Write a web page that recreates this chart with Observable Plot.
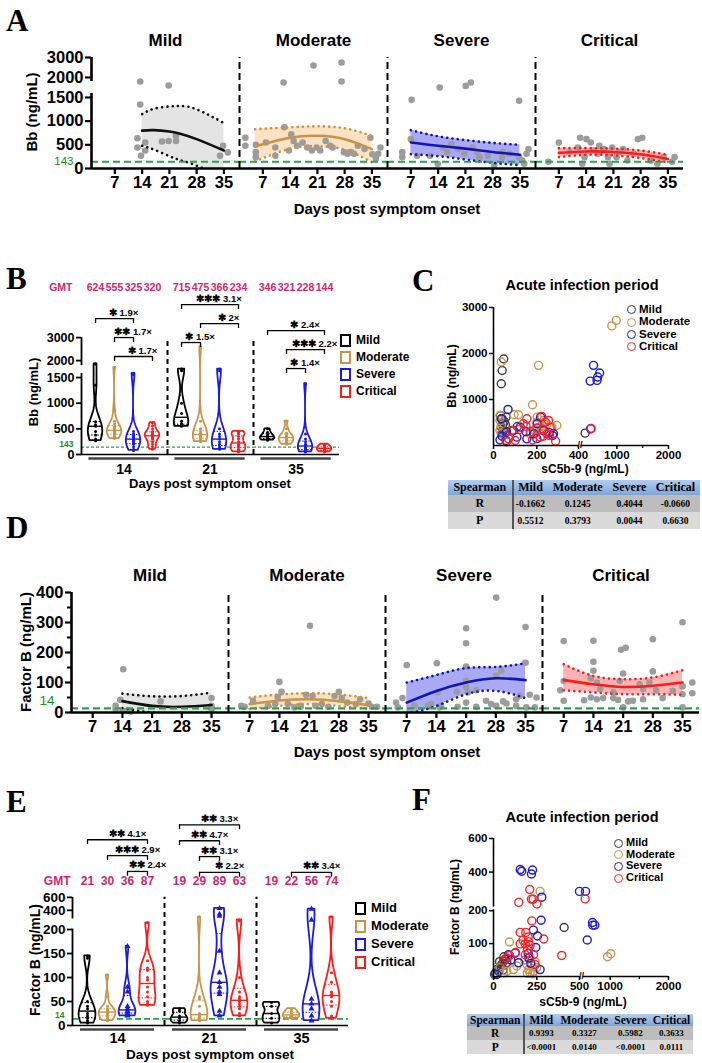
<!DOCTYPE html>
<html><head><meta charset="utf-8">
<script src="https://cdn.jsdelivr.net/npm/d3@7"></script>
<script src="https://cdn.jsdelivr.net/npm/@observablehq/plot@0.6"></script>
<style>
body{margin:0;background:#fff;}
#root{position:relative;width:702px;height:1063px;overflow:hidden;font-family:"Liberation Sans",Arial,sans-serif;color:#000;}
.letter{position:absolute;font-family:"Liberation Serif","Times New Roman",serif;font-weight:bold;font-size:31px;line-height:1;}
.lab{position:absolute;font-weight:bold;white-space:nowrap;transform:translate(-50%,-50%);line-height:1;}
.ylab{position:absolute;font-weight:bold;white-space:nowrap;transform:translate(-50%,-50%) rotate(-90deg);line-height:1;}
.leg{position:absolute;font-weight:bold;white-space:nowrap;line-height:1;}
.sq{display:inline-block;width:7px;height:9px;border:2px solid;vertical-align:middle;margin-right:5px;}
.ci{display:inline-block;width:7px;height:7px;border:1.5px solid;border-radius:50%;vertical-align:middle;margin-right:3px;}
table.sp{position:absolute;border-collapse:collapse;font-family:"Liberation Serif","Times New Roman",serif;font-weight:bold;text-align:center;}
table.sp th{background:linear-gradient(#b3cdee,#7da5da);padding:0 3px;}
table.sp tr.r td{background:#bdbdbd;}
table.sp tr.p td{background:#dadada;}
table.sp th:first-child,table.sp td:first-child{border-right:2px solid #555;}
</style></head>
<body><div id="root"></div>
<script>
// ---------------- shared categories ----------------
const groups = ["Mild", "Moderate", "Severe", "Critical"];
const days = [14, 21, 35];
const xTickDays = [7, 14, 21, 28, 35];

// ---------------- Panel A: Bb over time, grey points [day, ng/mL] ----------------
const aPtsMild = [[13.5,1900],[13.5,1350],[12.8,640],[12.8,445],[13.7,270],[14.8,550],[14.8,380],[20.8,1800],[20.8,580],[22.7,690],[22.7,580],[19.1,570],[34,270],[34.8,480],[36,340]];
const aPtsModerate = [[2.5,650],[2.5,480],[5.2,345],[5.2,240],[5.2,500],[7.8,550],[10.2,445],[12.5,870],[12.3,1875],[14.3,720],[14.9,580],[15.8,480],[17.2,550],[18.4,445],[19.6,380],[20,2600],[20.8,445],[21.7,380],[23.1,580],[24.3,480],[24.9,445],[27.2,2750],[27.2,1900],[27.8,345],[28.8,310],[29.6,345],[30.4,310],[31.4,480],[33.1,410],[34.6,650],[35.1,300],[36.6,310],[37.2,445],[36,210],[10.2,270],[13.7,380]];
const aPtsSevere = [[7.2,1450],[7,620],[4.8,345],[4.8,240],[8.6,270],[11.9,270],[13.9,100],[14.4,1750],[15.2,445],[16.3,345],[17.4,515],[19.1,410],[20.7,310],[21.1,1790],[22.4,1875],[22.9,445],[24.6,240],[26.8,270],[28.4,70],[30.4,240],[32.3,310],[34.8,1430],[34.8,240],[35.6,170],[36.7,310],[37.2,410],[36.1,100],[24,345],[30.6,345]];
const aPtsCritical = [[4.3,140],[7,550],[9.7,345],[11.9,445],[12.5,650],[13.6,240],[14.1,620],[15.2,550],[16.9,310],[18.5,410],[19.6,240],[20,100],[20.7,445],[21.8,240],[23.5,410],[24.6,170],[26.2,310],[27.3,620],[28.4,650],[30.6,170],[32.3,100],[33.9,240],[36.1,140],[36.7,240],[13,100],[15.8,380],[17.4,480],[22.4,345]];
// fitted curve with 95% band [day, fit, lower, upper]
const aFitMild = [[14,800,480,1150],[17,810,400,1260],[21,780,260,1310],[24,730,170,1320],[28,620,60,1250],[35,380,-200,960]];
const aFitModerate = [[5,470,150,830],[14,650,420,870],[21,690,470,890],[28,620,400,850],[35,410,130,690]];
const aFitSevere = [[7,550,300,810],[14,480,260,680],[21,420,190,600],[28,350,120,540],[35,290,70,500]];
const aFitCritical = [[7,330,240,430],[14,360,290,430],[21,350,280,420],[28,300,220,380],[35,200,130,290]];
const aYTicks = [0, 500, 1000, 1500, 2000, 3000];

// ---------------- Panel D: Factor B over time ----------------
const dPtsMild = [[14.2,144],[13.5,42],[12.4,22],[12.4,11],[15,5],[16,3],[23,37],[35,48],[35,22],[35,11],[14,5]];
const dPtsModerate = [[21.2,289],[14,102],[14.5,69],[7.8,39],[5,22],[5.8,19],[11.3,22],[13,28],[13.6,52],[16,28],[19,19],[20.3,59],[21.8,55],[22.5,22],[24,28],[25.5,19],[27,55],[28,69],[28.7,48],[30,33],[32,28],[33,44],[35,30],[35.8,19],[37,19],[17.5,17],[19,22]];
const dPtsSevere = [[28.1,383],[21,281],[21,231],[35,285],[7,158],[14.1,164],[35,166],[21,153],[29.3,139],[28.1,122],[21,105],[21,85],[23.4,74],[18.8,69],[14.3,67],[21.4,67],[21,33],[25.7,39],[26.9,28],[28.1,22],[29.7,37],[30.5,30],[32.8,22],[33.6,55],[36,59],[37.6,50],[35.2,17],[37.2,17],[4.5,33],[6,48],[4.9,17],[8.8,22],[12,22],[12.7,28],[15.1,22],[19,19],[23.4,19],[32.8,44],[14.7,17]];
const dPtsCritical = [[35,301],[7,238],[14,239],[20.5,209],[21.6,216],[28,244],[14,169],[21,130],[28,137],[7,105],[14,139],[13.4,114],[6.2,74],[7,39],[11.8,41],[13.4,50],[14.8,44],[16.3,48],[18.7,48],[19.8,42],[21,17],[22.2,37],[23.3,39],[25.7,44],[25.7,78],[28.8,74],[30.3,48],[32.7,72],[35,87],[35,61],[35,17],[37.3,100],[37.3,64],[14.8,100],[20.2,105],[24.9,94],[27.2,100],[15.6,78],[18.7,67]];
const dFitMild = [[14,38,15,63],[21,22,0,54],[28,19,-2,55],[35,25,0,66]];
const dFitModerate = [[7,28,11,50],[14,40,22,60],[21,44,28,64],[28,38,22,60],[35,24,11,48]];
const dFitSevere = [[7,33,-5,100],[14,72,22,125],[21,100,61,148],[28,114,72,152],[35,108,48,164]];
const dFitCritical = [[7,108,74,161],[14,94,67,122],[21,85,61,111],[28,89,61,117],[35,100,59,141]];
const dYTicks = [0, 100, 200, 300, 400];
const dYMinor = [50, 150, 250, 350];

// ---------------- Panel B: Bb violins [group, day, values] ----------------
const bViolins = [
  ["Mild",14,[1900,1350,640,580,550,450,380,300,270]],
  ["Moderate",14,[1800,870,650,600,550,520,500,480,460,450,420,400,380,350,340,310]],
  ["Severe",14,[1620,1580,450,400,380,350,320,300,280,250,220,200,150,100,80]],
  ["Critical",14,[620,560,500,450,420,400,380,350,320,300,250,200,150,100]],
  ["Mild",21,[1750,1700,1000,800,650,600,560,550]],
  ["Moderate",21,[2600,650,500,450,420,400,380,350,320,300,280,250]],
  ["Severe",21,[1750,1700,500,400,350,300,250,200,150,120,100]],
  ["Critical",21,[450,420,400,350,300,250,200,180,150,100,80,50]],
  ["Mild",35,[500,430,380,350,320,300,280]],
  ["Moderate",35,[650,500,420,380,350,330,300,280,250,220,200]],
  ["Severe",35,[1380,400,300,250,200,180,150,130,100,80,60,50]],
  ["Critical",35,[200,180,150,130,120,100,80,60,50]]
];
const bGMT = [624,555,325,320,715,475,366,234,346,321,228,144];
// [day, from group, to group, stars, fold]  (listed bottom row first)
const bBrackets = [
  [14,"Moderate","Critical","✱","1.7×"],[14,"Moderate","Severe","✱✱","1.7×"],[14,"Mild","Severe","✱","1.9×"],
  [21,"Mild","Moderate","✱","1.5×"],[21,"Moderate","Critical","✱","2×"],[21,"Mild","Critical","✱✱✱","3.1×"],
  [35,"Moderate","Severe","✱","1.4×"],[35,"Moderate","Critical","✱✱✱","2.2×"],[35,"Mild","Critical","✱","2.4×"]
];
const bYTicks = [0, 500, 1000, 1500, 2000, 3000];

// ---------------- Panel E: Factor B violins ----------------
const eViolins = [
  ["Mild",14,[145,140,50,40,35,25,20,15,10,5]],
  ["Moderate",14,[105,60,40,35,32,30,28,25,22,20,15,12,10]],
  ["Severe",14,[165,80,70,40,35,30,28,25,22,20]],
  ["Critical",14,[270,135,120,115,100,95,80,70,60,50,45,42]],
  ["Mild",21,[35,30,20,15,10,5]],
  ["Moderate",21,[330,60,55,40,25,20,18,15,12,10]],
  ["Severe",21,[430,360,340,155,110,90,80,70,65,30,20]],
  ["Critical",21,[300,290,100,70,60,55,50,45,40,35,25,20]],
  ["Mild",35,[48,40,25,15,5]],
  ["Moderate",35,[35,30,25,22,20,18,15]],
  ["Severe",35,[420,300,55,45,35,20,10]],
  ["Critical",35,[330,110,90,70,65,60,50,40,20,15]]
];
const eGMT = [21,30,36,87,19,29,89,63,19,22,56,74];
const eBrackets = [
  [14,"Severe","Critical","✱✱","2.4×"],[14,"Moderate","Critical","✱✱✱","2.9×"],[14,"Mild","Critical","✱✱","4.1×"],
  [21,"Moderate","Critical","✱","2.2×"],[21,"Moderate","Severe","✱✱","3.1×"],[21,"Mild","Severe","✱✱","4.7×"],[21,"Mild","Critical","✱✱","3.3×"],
  [35,"Moderate","Critical","✱✱","3.4×"]
];
const eYTicks = [0, 50, 100, 150, 200, 400, 600];

// ---------------- Panel C: Bb vs sC5b-9 [sC5b-9, Bb] ----------------
const cMild = [[47,1880],[40,1630],[36,1343],[32,653],[40,580],[43,472],[36,400],[47,327],[40,254],[58,617],[110,414],[504,269],[50,520],[55,450],[45,350],[52,300]];
const cModerate = [[36,1815],[208,1742],[180,886],[95,668],[115,668],[30,653],[30,545],[36,436],[30,327],[36,254],[202,617],[233,545],[249,470],[272,400],[210,400],[187,327],[171,254],[225,327],[922,2600],[990,2720],[296,435],[200,500],[220,420],[190,350]];
const cSevere = [[635,1742],[583,1400],[700,1490],[730,1575],[690,1415],[590,363],[67,784],[36,580],[30,123],[58,109],[92,327],[123,400],[187,254],[202,472],[233,327],[280,254],[154,145],[108,181],[218,617],[276,218],[40,200],[60,300],[150,300],[260,280],[200,150]];
const cCritical = [[598,370],[223,632],[85,327],[138,472],[154,580],[217,181],[248,254],[290,94],[240,508],[100,109],[70,145],[256,545],[264,400],[170,300],[120,350],[180,120],[230,200],[200,380],[260,220],[150,420],[60,80]];
const cXTicks = [0, 200, 400, 1000, 2000];
const cYTicks = [1000, 2000, 3000];
const cR = ["-0.1662","0.1245","0.4044","-0.0660"];
const cP = ["0.5512","0.3793","0.0044","0.6630"];

// ---------------- Panel F: Factor B vs sC5b-9 ----------------
const fMild = [[410,149],[29,16],[38,26],[48,37],[58,47],[67,52],[77,42],[10,10],[6,6],[22,22],[45,30],[55,20],[35,45],[60,60],[75,55]];
const fModerate = [[269,300],[92,105],[957,60],[1011,69],[202,21],[221,32],[231,16],[192,37],[250,27],[211,11],[115,21],[77,16],[38,27],[58,11],[135,32],[180,50],[240,45],[210,60],[195,10],[225,8]];
const fSevere = [[154,415],[163,405],[225,412],[219,390],[279,270],[275,171],[230,141],[254,123],[244,88],[125,71],[86,66],[269,21],[500,300],[598,300],[712,164],[716,156],[750,156],[627,111],[204,56],[19,6],[145,42],[200,70],[215,40],[100,50]];
const fCritical = [[209,310],[219,260],[229,260],[250,235],[146,243],[592,261],[221,169],[290,114],[154,134],[186,134],[154,99],[183,99],[202,106],[211,94],[231,66],[396,64],[127,73],[92,64],[77,56],[58,48],[196,81],[183,66],[240,36],[200,120],[170,110]];
const fXTicks = [0, 250, 500, 1000, 2000];
const fYTicks = [100, 200, 400, 600];
const fR = ["0.9393","0.3327","0.5982","0.3633"];
const fP = ["<0.0001","0.0140","<0.0001","0.0111"];

// ---------------- styles ----------------
const lineCol = ["#111111", "#c8944a", "#1414b4", "#ff1a1a"];
const bandCol = ["#e4e4e4", "#fde3c3", "#a9a9f5", "#ffb3b3"];
const violinCol = ["#000000", "#c8944a", "#1a1ae0", "#ff1a1a"];
const scatterCol = ["#3c3c3c", "#c8944a", "#1a1ad6", "#ff2020"];
const gmtCol = "#d0266b";
const green = "#22a845";
const greenText = "#1c8c1c";
const FONT = "'Liberation Sans', Arial, sans-serif";

const root = document.getElementById("root");
function place(el, left, top) { el.style.position = "absolute"; el.style.left = left + "px"; el.style.top = top + "px"; root.appendChild(el); return el; }
function div(cls, text, left, top, css) { const d = document.createElement("div"); d.className = cls; d.textContent = text; Object.assign(d.style, css || {}); return place(d, left, top); }

// ---------------- trend panels (A, D) ----------------
function trendPanel(o) {
  const pts = [], fits = [];
  o.pts.forEach((arr, gi) => arr.forEach(([day, v]) => pts.push({g: groups[gi], day, y: o.disp(v)})));
  o.fits.forEach((arr, gi) => arr.forEach(([day, f, lo, hi]) => fits.push({g: groups[gi], day, f: o.disp(f), lo: o.disp(lo), hi: o.disp(hi)})));
  const yTop = o.disp(o.yMax);
  const marks = [];
  groups.forEach((g, gi) => marks.push(Plot.areaY(fits.filter(d => d.g === g), {fx: "g", x: "day", y1: "lo", y2: "hi", fill: bandCol[gi], curve: "natural", clip: true})));
  marks.push(Plot.dot(pts, {fx: "g", x: "day", y: "y", r: o.r, fill: "#9c9c9c"}));
  groups.forEach((g, gi) => {
    const rows = fits.filter(d => d.g === g);
    ["lo", "hi"].forEach(k => marks.push(Plot.line(rows, {fx: "g", x: "day", y: k, stroke: lineCol[gi], strokeWidth: 2.6, strokeDasharray: "0.1 5.2", strokeLinecap: "round", curve: "natural", clip: true})));
    marks.push(Plot.line(rows, {fx: "g", x: "day", y: "f", stroke: lineCol[gi], strokeWidth: 2.6, curve: "natural", clip: true}));
  });
  marks.push(Plot.ruleY([o.disp(o.ref)], {stroke: green, strokeWidth: 2.2, strokeDasharray: "7 4"}));
  marks.push(Plot.ruleY([0], {strokeWidth: 2.6}));
  marks.push(Plot.ruleX(groups.slice(0, 3), {fx: d => d, x: o.xDomain[1], y1: 0, y2: yTop, strokeWidth: 2, strokeDasharray: "7 4"}));
  marks.push(Plot.axisX({ticks: xTickDays, tickSize: 6, tickPadding: 2, strokeWidth: 2.2, fontSize: o.tickFont, fontWeight: "bold", label: null}));
  const lab = new Map(o.yTicks.map(t => [o.disp(t), String(t)]));
  marks.push(Plot.axisY({ticks: o.yTicks.map(o.disp), tickFormat: d => lab.get(d), tickSize: 6, tickPadding: 2, strokeWidth: 2.2, fontSize: o.tickFont, fontWeight: "bold", label: null}));
  if (o.yMinor) marks.push(Plot.axisY({ticks: o.yMinor.map(o.disp), tickFormat: () => "", tickSize: 4, strokeWidth: 2, label: null}));
  marks.push(Plot.axisY({ticks: [o.disp(o.ref)], tickFormat: () => String(o.ref), color: greenText, tickSize: 0, tickPadding: o.refPad, dy: o.refDy, fontSize: o.refFont, label: null}));
  marks.push(Plot.ruleX(o.axisSegs, {fx: () => groups[0], x: o.xDomain[0], y1: d => o.disp(d[0]), y2: d => o.disp(d[1]), strokeWidth: 2.6}));
  marks.push(Plot.text(groups, {fx: d => d, text: d => d, frameAnchor: "top", dy: -24, fontSize: 17, fontWeight: "bold"}));
  return Plot.plot({
    width: o.width, height: o.height,
    marginLeft: o.ml, marginRight: o.mr, marginTop: o.mt, marginBottom: o.mb,
    style: {fontFamily: FONT, fontSize: "16px", color: "#000", background: "transparent", overflow: "visible"},
    fx: {domain: groups, padding: 0, axis: null},
    x: {domain: o.xDomain, axis: null},
    y: {domain: [0, yTop], axis: null},
    marks
  });
}

// ---------------- violin panels (B, E) ----------------
function violinPanel(o) {
  const outline = [], dots = [], qlines = [];
  for (const [g, day, vals] of o.data) {
    const gi = groups.indexOf(g);
    const ys = vals.map(o.disp);
    const bw = Math.max(1.06 * d3.deviation(ys) * Math.pow(ys.length, -0.2) * o.bwScale, o.minBw);
    const kde = y => d3.sum(ys, v => Math.exp(-0.5 * ((y - v) / bw) ** 2));
    const lo = d3.min(ys), hi = d3.max(ys);
    const grid = d3.range(61).map(i => lo + (hi - lo) * i / 60);
    const dens = grid.map(kde), m = d3.max(dens);
    grid.forEach((y, i) => outline.push({g, gi, day, y, w: o.maxW * dens[i] / m}));
    ys.forEach(y => dots.push({g, gi, day, y}));
    [[0.5, "med"], [0.25, "q"], [0.75, "q"]].forEach(([p, kind]) => {
      const y = d3.quantile(ys, p);
      qlines.push({g, gi, day, y, kind, w: o.maxW * kde(y) / m});
    });
  }
  const brRank = {};
  const br = o.brackets.map(([day, a, b, stars, fold]) => {
    const rank = brRank[day] = (brRank[day] ?? -1) + 1;
    return {day, a: groups.indexOf(a), b: groups.indexOf(b), label: stars + " " + fold, y: o.brBase[day] + rank * o.brStep};
  });
  const gmtRows = o.gmt.map((v, i) => ({day: days[Math.floor(i / 4)], gi: i % 4, v}));
  const lab = new Map(o.yTicks.map(t => [o.disp(t), String(t)]));
  const marks = [
    Plot.ruleY([o.ref], {stroke: green, strokeWidth: o.refW, strokeDasharray: o.refDash}),
    Plot.ruleX(days.slice(0, 2), {fx: d => d, x: o.xDomain[1], y1: 0, y2: o.disp(o.divTop), strokeWidth: 2, strokeDasharray: "5 4"}),
    Plot.areaX(outline, {fx: "day", y: "y", x1: d => d.gi - d.w, x2: d => d.gi + d.w, z: "g", stroke: "g", fill: "white", strokeWidth: 1.8}),
    Plot.ruleY(qlines.filter(d => d.kind === "med"), {fx: "day", y: "y", x1: d => d.gi - d.w, x2: d => d.gi + d.w, stroke: "g", strokeWidth: 1.4}),
    Plot.ruleY(qlines.filter(d => d.kind === "q"), {fx: "day", y: "y", x1: d => d.gi - d.w, x2: d => d.gi + d.w, stroke: "g", strokeWidth: 1, strokeDasharray: "1.5 1.5"}),
    Plot.dot(dots.filter(d => !(o.triangles && d.g === "Severe")), {fx: "day", x: "gi", y: "y", r: 1.5, fill: "g"}),
    Plot.ruleY([0], {strokeWidth: 1.6}),
    Plot.ruleY(days, {fx: d => d, y: 0, x1: -0.35, x2: 3.35, dy: 4, stroke: "#444", strokeWidth: 2.6}),
    Plot.text(days, {fx: d => d, x: 1.5, y: 0, text: d => String(d), dy: o.dayDy, fontSize: o.dayFont, fontWeight: "bold"}),
    Plot.ruleY(br, {fx: "day", x1: "a", x2: "b", y: "y", strokeWidth: 1.3}),
    Plot.ruleX(br.flatMap(r => [{...r, x: r.a}, {...r, x: r.b}]), {fx: "day", x: "x", y1: d => d.y - o.brTick, y2: "y", strokeWidth: 1.3}),
    Plot.text(br, {fx: "day", x: d => (d.a + d.b) / 2, y: "y", text: "label", dx: o.brDx, dy: -6, fontSize: o.brFont, fontWeight: "bold"}),
    Plot.text(gmtRows, {fx: "day", x: "gi", y: o.gmtY, text: d => String(d.v), fill: gmtCol, fontSize: o.gmtFont, fontWeight: "bold"}),
    Plot.text(["GMT"], {fx: () => 14, x: o.xDomain[0], y: o.gmtY, dx: o.gmtDx, textAnchor: "end", fill: gmtCol, fontSize: o.gmtFont, fontWeight: "bold"}),
    Plot.axisY({ticks: o.yTicks.map(o.disp), tickFormat: d => lab.get(d), tickSize: 5, tickPadding: 2, strokeWidth: 1.8, fontSize: o.tickFont, fontWeight: "bold", label: null}),
    Plot.axisY({ticks: [o.ref], tickFormat: () => String(o.ref), color: greenText, tickSize: 0, tickPadding: 8, dy: o.refDy, fontSize: o.refFont, fontWeight: "bold", label: null}),
    Plot.ruleX(o.axisSegs, {fx: () => 14, x: o.xDomain[0], y1: d => o.disp(d[0]), y2: d => o.disp(d[1]), strokeWidth: 1.8})
  ];
  if (o.triangles) marks.push(Plot.dot(dots.filter(d => d.g === "Severe"), {fx: "day", x: "gi", y: "y", r: 2.2, symbol: "triangle", fill: "g"}));
  return Plot.plot({
    width: o.width, height: o.height,
    marginLeft: o.ml, marginRight: o.mr, marginTop: o.mt, marginBottom: o.mb,
    style: {fontFamily: FONT, fontSize: "13px", color: "#000", background: "transparent", overflow: "visible"},
    fx: {domain: days, padding: 0, axis: null},
    x: {domain: o.xDomain, axis: null},
    y: {domain: [0, o.yTop], axis: null},
    color: {domain: groups, range: violinCol},
    marks
  });
}

// ---------------- scatter panels (C, F) ----------------
function scatterPanel(o) {
  const rows = [];
  o.sets.forEach((arr, gi) => arr.forEach(([x, y]) => rows.push({g: groups[gi], x: o.dx(x), y: o.dy(y)})));
  const xl = new Map(o.xTicks.map(t => [o.dx(t), String(t)]));
  const yl = new Map(o.yTicks.map(t => [o.dy(t), String(t)]));
  const xMax = o.dx(o.xTicks[o.xTicks.length - 1]), yMax = o.dy(o.yTicks[o.yTicks.length - 1]);
  return Plot.plot({
    width: o.width, height: o.height,
    marginLeft: o.ml, marginRight: o.mr, marginTop: o.mt, marginBottom: o.mb,
    style: {fontFamily: FONT, fontSize: "11px", color: "#000", background: "transparent", overflow: "visible"},
    x: {domain: [0, xMax], axis: null},
    y: {domain: [0, yMax], axis: null},
    color: {domain: groups, range: scatterCol},
    marks: [
      Plot.dot(rows, {x: "x", y: "y", stroke: "g", r: 4, strokeWidth: 1.4, fill: "none"}),
      Plot.ruleX([0], {y1: 0, y2: o.yBreak ? o.dy(o.yBreak[0]) : yMax, strokeWidth: 1.6}),
      o.yBreak ? Plot.ruleX([0], {y1: o.dy(o.yBreak[1]), y2: yMax, strokeWidth: 1.6}) : null,
      Plot.ruleY([0], {x1: 0, x2: o.dx(o.xBreak[0]), strokeWidth: 1.6}),
      Plot.ruleY([0], {x1: o.dx(o.xBreak[1]), x2: xMax, strokeWidth: 1.6}),
      Plot.text(["//"], {x: (o.dx(o.xBreak[0]) + o.dx(o.xBreak[1])) / 2, y: 0, fontSize: 9, fontWeight: "bold"}),
      Plot.axisX({ticks: o.xTicks.map(o.dx), tickFormat: d => xl.get(d), tickSize: 4, tickPadding: 1, strokeWidth: 1.5, fontSize: 11.5, fontWeight: "bold", label: null}),
      Plot.axisX({ticks: o.xMinor.map(o.dx), tickFormat: () => "", tickSize: 3, strokeWidth: 1.2, label: null}),
      Plot.axisY({ticks: o.yTicks.map(o.dy), tickFormat: d => yl.get(d), tickSize: 4, tickPadding: 2, strokeWidth: 1.5, fontSize: 11.5, fontWeight: "bold", label: null})
    ]
  });
}

function spearmanTable(R, P, left, top, width, fsH, fsB, rowH) {
  const t = document.createElement("table");
  t.className = "sp";
  t.style.width = width + "px";
  const head = "<tr><th style='font-size:" + fsH + "px;height:" + rowH + "px'>Spearman</th>" + groups.map(g => "<th style='font-size:" + fsH + "px'>" + g + "</th>").join("") + "</tr>";
  const row = (cls, name, vals) => "<tr class='" + cls + "'><td style='font-size:" + fsH + "px;height:" + rowH + "px'>" + name + "</td>" + vals.map(v => "<td style='font-size:" + fsB + "px'>" + v.replace("<", "&lt;") + "</td>").join("") + "</tr>";
  t.innerHTML = head + row("r", "R", R) + row("p", "P", P);
  return place(t, left, top);
}

function legend(kind, left, top, step, fs, cols) {
  groups.forEach((g, i) => {
    const d = document.createElement("div");
    d.className = "leg";
    d.style.fontSize = fs + "px";
    d.innerHTML = "<span class='" + kind + "' style='border-color:" + cols[i] + "'></span>" + g;
    place(d, left, top + i * step);
  });
}

// ===== Panel A =====
const dispA = d3.scaleLinear().domain([0, 1500, 2000, 3000]).range([0, 1500, 1922, 2344]);
place(trendPanel({
  pts: [aPtsMild, aPtsModerate, aPtsSevere, aPtsCritical],
  fits: [aFitMild, aFitModerate, aFitSevere, aFitCritical],
  disp: dispA, yMax: 3000, yTicks: aYTicks, ref: 143, refDy: 0, refPad: 18, refFont: 11.5, r: 3.3,
  axisSegs: [[0, 1600], [1900, 3000]], xDomain: [1, 39], tickFont: 16.5,
  width: 702, height: 215, ml: 90, mr: 18, mt: 57, mb: 47
}), 0, 0);

// ===== Panel D =====
const dispD = d3.scaleLinear().domain([0, 400]).range([0, 400]);
place(trendPanel({
  pts: [dPtsMild, dPtsModerate, dPtsSevere, dPtsCritical],
  fits: [dFitMild, dFitModerate, dFitSevere, dFitCritical],
  disp: dispD, yMax: 400, yTicks: dYTicks, yMinor: dYMinor, ref: 14, refDy: -8, refPad: 17, refFont: 13.5, r: 3.3,
  axisSegs: [[0, 400]], xDomain: [2, 39], tickFont: 16.5,
  width: 702, height: 214, ml: 69, mr: 2, mt: 47, mb: 47
}), 0, 545);

// ===== Panel B =====
const dispB = d3.scaleLinear().domain([0, 1500, 2000, 3000]).range([0, 1500, 1831, 2279]);
place(violinPanel({
  data: bViolins, disp: dispB, yTop: 3431, yTicks: bYTicks, ref: 143, refDy: -3, refFont: 8.5, refW: 1.4, refDash: "3 2",
  gmt: bGMT, gmtY: 3255, gmtDx: -9, gmtFont: 10.5,
  brackets: bBrackets, brBase: {14: 1910, 21: 2183, 35: 1676}, brStep: 370, brTick: 97, brDx: 9, brFont: 9.5,
  axisSegs: [[0, 1620], [1850, 3000]], divTop: 3000, xDomain: [-0.74, 3.79],
  bwScale: 0.55, minBw: 40, maxW: 0.38, dayDy: 15, dayFont: 14, tickFont: 12.5,
  width: 342, height: 220, ml: 81, mr: 3, mt: 8, mb: 36
}), 0, 270);

// ===== Panel E =====
const dispE = d3.scaleLinear().domain([0, 200, 400, 600]).range([0, 200, 240, 267]);
place(violinPanel({
  data: eViolins, disp: dispE, yTop: 448, yTicks: eYTicks, ref: 14, refDy: -4, refFont: 8.5, refW: 1.8, refDash: "6 3",
  gmt: eGMT, gmtY: 300, gmtDx: -2, gmtFont: 12,
  brackets: eBrackets, brBase: {14: 321, 21: 319, 35: 319}, brStep: 33, brTick: 10, brDx: 10, brFont: 9.5,
  axisSegs: [[0, 205], [310, 600]], divTop: 600, xDomain: [-0.75, 3.85], triangles: true,
  bwScale: 0.55, minBw: 6, maxW: 0.42, dayDy: 13, dayFont: 14.5, tickFont: 13.5,
  width: 355, height: 263, ml: 72, mr: 7, mt: 10, mb: 38
}), 0, 800);

// ===== Panel C =====
const dxC = d3.scaleLinear().domain([0, 200, 400, 1000, 2000]).range([0, 130, 255, 370, 525]);
const dyC = d3.scaleLinear().domain([0, 3000]).range([0, 3000]);
place(scatterPanel({
  sets: [cMild, cModerate, cSevere, cCritical], dx: dxC, dy: dyC,
  xTicks: cXTicks, xMinor: [1500], yTicks: cYTicks, xBreak: [406, 440],
  width: 240, height: 175, ml: 53, mr: 12, mt: 7, mb: 30
}), 440, 300);

// ===== Panel F =====
const dxF = d3.scaleLinear().domain([0, 250, 500, 1000, 2000]).range([0, 130, 258, 350, 525]);
const dyF = d3.scaleLinear().domain([0, 100, 200, 400, 600]).range([0, 98, 196, 311, 411]);
place(scatterPanel({
  sets: [fMild, fModerate, fSevere, fCritical], dx: dxF, dy: dyF,
  xTicks: fXTicks, xMinor: [1500], yTicks: fYTicks, xBreak: [505, 560], yBreak: [205, 218],
  width: 240, height: 165, ml: 53, mr: 12, mt: 8, mb: 19
}), 440, 830);

// ===== letters, titles, labels =====
div("letter", "A", 6, 5);
div("letter", "B", 6, 263);
div("letter", "C", 412, 265);
div("letter", "D", 6, 512);
div("letter", "E", 6, 786);
div("letter", "F", 412, 784);

div("ylab", "Bb (ng/mL)", 31, 112, {fontSize: "15px"});
div("lab", "Days post symptom onset", 387, 208, {fontSize: "15px"});
div("ylab", "Bb (ng/mL)", 33, 392, {fontSize: "13px"});
div("lab", "Days post symptom onset", 210, 483, {fontSize: "13px"});
div("ylab", "Factor B (ng/mL)", 25, 652, {fontSize: "15px"});
div("lab", "Days post symptom onset", 387, 751, {fontSize: "15px"});
div("ylab", "Factor B (ng/mL)", 35, 960, {fontSize: "14px"});
div("lab", "Days post symptom onset", 210, 1055, {fontSize: "13.5px"});

div("lab", "Acute infection period", 582, 285, {fontSize: "14.5px"});
div("ylab", "Bb (ng/mL)", 452, 376, {fontSize: "12px"});
div("lab", "sC5b-9 (ng/mL)", 585, 469, {fontSize: "12px"});
div("lab", "Acute infection period", 582, 817, {fontSize: "14.5px"});
div("ylab", "Factor B (ng/mL)", 455, 907, {fontSize: "12px"});
div("lab", "sC5b-9 (ng/mL)", 583, 1002, {fontSize: "12px"});

legend("sq", 340, 334, 17, 12, violinCol);
legend("sq", 355, 901, 18, 13, violinCol);
legend("ci", 627, 304, 12.3, 11.5, scatterCol);
legend("ci", 614, 837, 11.7, 11, scatterCol);

spearmanTable(cR, cP, 448, 480, 253, 12, 9.5, 15);
spearmanTable(fR, fP, 467, 1014, 216, 11.5, 9, 12);
</script></body></html>
